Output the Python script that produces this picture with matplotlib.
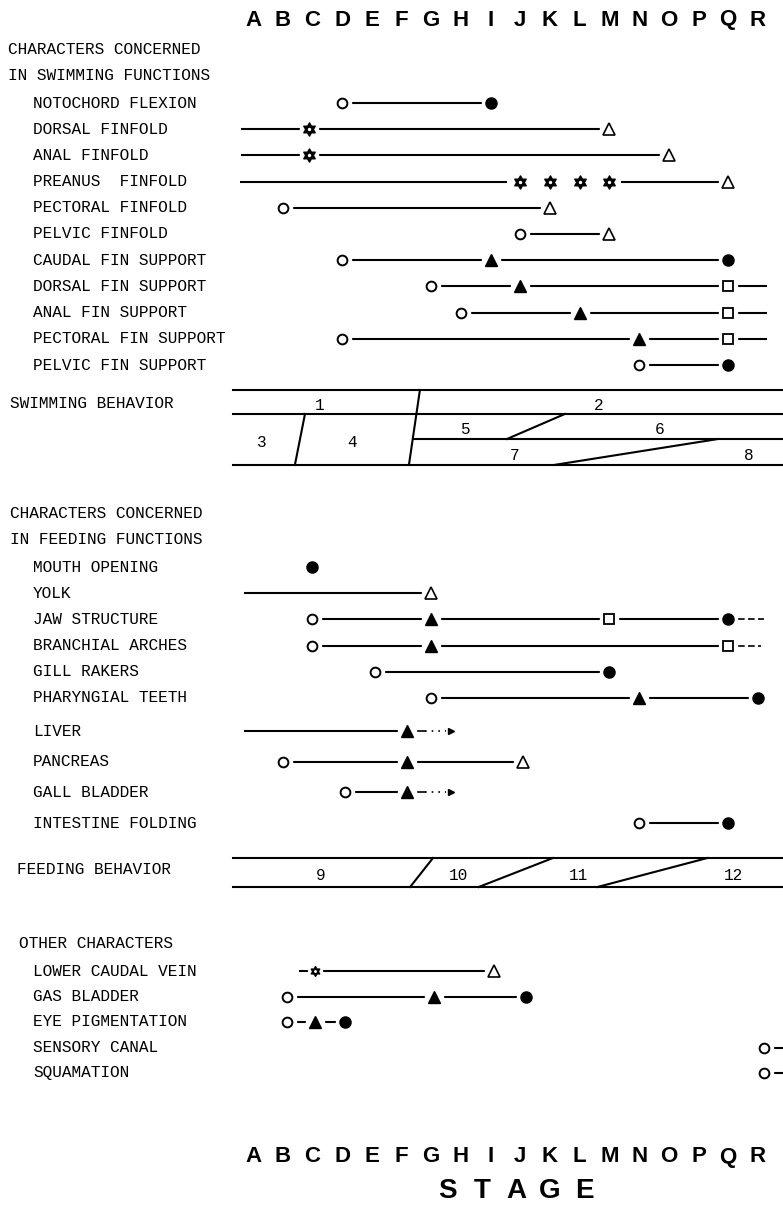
import numpy as np
import matplotlib.pyplot as plt
from matplotlib.path import Path
from matplotlib.transforms import blended_transform_factory

# Developmental stages along the horizontal axis
stages = list('ABCDEFGHIJKLMNOPQR')

# Characters concerned in swimming functions
swim_names = ['NOTOCHORD FLEXION', 'DORSAL FINFOLD', 'ANAL FINFOLD', 'PREANUS  FINFOLD',
              'PECTORAL FINFOLD', 'PELVIC FINFOLD', 'CAUDAL FIN SUPPORT', 'DORSAL FIN SUPPORT',
              'ANAL FIN SUPPORT', 'PECTORAL FIN SUPPORT', 'PELVIC FIN SUPPORT']
swim_marks = [
    [(3, 'open'), (8, 'dot')],
    [(1.9, 'star'), (12, 'open_tri')],
    [(1.9, 'star'), (14, 'open_tri')],
    [(9, 'star'), (10, 'star'), (11, 'star'), (12, 'star'), (16, 'open_tri')],
    [(1, 'open'), (10, 'open_tri')],
    [(9, 'open'), (12, 'open_tri')],
    [(3, 'open'), (8, 'tri'), (16, 'dot')],
    [(6, 'open'), (9, 'tri'), (16, 'square')],
    [(7, 'open'), (11, 'tri'), (16, 'square')],
    [(3, 'open'), (13, 'tri'), (16, 'square')],
    [(13, 'open'), (16, 'dot')],
]
swim_lines = [
    [(3, 8)],
    [(-0.4, 12)],
    [(-0.4, 14)],
    [(-0.45, 8.55), (12.4, 16)],
    [(1, 10)],
    [(9, 12)],
    [(3, 16)],
    [(6, 17.3)],
    [(7, 17.3)],
    [(3, 17.3)],
    [(13, 16)],
]

# Characters concerned in feeding functions
feed_names = ['MOUTH OPENING', 'YOLK', 'JAW STRUCTURE', 'BRANCHIAL ARCHES', 'GILL RAKERS',
              'PHARYNGIAL TEETH', 'LIVER', 'PANCREAS', 'GALL BLADDER', 'INTESTINE FOLDING']
feed_marks = [
    [(2, 'dot')],
    [(6, 'open_tri')],
    [(2, 'open'), (6, 'tri'), (12, 'square'), (16, 'dot')],
    [(2, 'open'), (6, 'tri'), (16, 'square')],
    [(4.1, 'open'), (12, 'dot')],
    [(6, 'open'), (13, 'tri'), (17, 'dot')],
    [(5.2, 'tri')],
    [(1, 'open'), (5.2, 'tri'), (9.1, 'open_tri')],
    [(3.1, 'open'), (5.2, 'tri')],
    [(13, 'open'), (16, 'dot')],
]
feed_lines = [
    [],
    [(-0.3, 6)],
    [(2, 16)],
    [(2, 16)],
    [(4.1, 12)],
    [(6, 17)],
    [(-0.3, 5.2)],
    [(1, 9.1)],
    [(3.1, 5.2)],
    [(13, 16)],
]
# continuation after the last mark: (start, end, kind)
feed_tails = [None, None, (16, 17.2, 'dashed'), (16, 17.1, 'dashed'), None, None,
              (5.2, 6.65, 'arrow'), None, (5.2, 6.65, 'arrow'), None]

# Other characters
other_names = ['LOWER CAUDAL VEIN', 'GAS BLADDER', 'EYE PIGMENTATION', 'SENSORY CANAL', 'SQUAMATION']
other_marks = [
    [(2.1, 'small_star'), (8.1, 'open_tri')],
    [(1.15, 'open'), (6.1, 'tri'), (9.2, 'dot')],
    [(1.15, 'open'), (2.1, 'tri'), (3.1, 'dot')],
    [(17.2, 'open')],
    [(17.2, 'open')],
]
other_lines = [[(1.55, 8.1)], [(1.15, 9.2)], [(1.15, 3.1)], [(17.2, 17.85)], [(17.2, 17.85)]]

# Swimming behaviour phases: band rules, sloping boundaries and phase numbers
swim_rule_start = [-0.67, -0.67, 5.38, -0.67]
swim_edges = [(1.75, 1.41, 1, 3), (5.62, 5.25, 0, 3), (10.5, 8.55, 1, 2), (15.66, 10.13, 2, 3)]
swim_phase = ['1', '2', '3', '4', '5', '6', '7', '8']
swim_phase_x = [2.26, 11.65, 0.3, 3.34, 7.17, 13.7, 8.8, 16.7]
swim_phase_band = [(0, 1), (0, 1), (1, 3), (1, 3), (1, 2), (1, 2), (2, 3), (2, 3)]

# Feeding behaviour phases
feed_edges = [(6.06, 5.29), (10.1, 7.6), (15.3, 11.6)]
feed_phase = ['9', '10', '11', '12']
feed_phase_x = [2.29, 6.93, 10.97, 16.16]

W, H = 783, 1209
PX = 29.7           # pixels per stage
X0 = 253            # pixel position of stage A
RIGHT = (W - X0) / PX

# six-pointed star used for the finfold marks
_out = np.deg2rad(90 + 60 * np.arange(6))
_verts = []
for a in _out:
    _verts.append((np.cos(a), np.sin(a)))
    _verts.append((0.577 * np.cos(a + np.pi / 6), 0.577 * np.sin(a + np.pi / 6)))
HEXAGRAM = Path(_verts + [_verts[0]], closed=True)

MARK_STYLE = {
    'open': dict(marker='o', ms=7, mfc='white', mec='black', mew=1.4),
    'dot': dict(marker='o', ms=8, mfc='black', mec='black'),
    'tri': dict(marker='^', ms=8, mfc='black', mec='black'),
    'open_tri': dict(marker='^', ms=8.5, mfc='white', mec='black', mew=1.2),
    'square': dict(marker='s', ms=6.5, mfc='white', mec='black', mew=1.3),
}
LABEL_FONT = dict(family='Liberation Mono', fontsize=11.6, color='black')
LINE_W = 1.5

fig = plt.figure(figsize=(W / 100, H / 100), dpi=100)
ax = fig.add_axes([0, 0, 1, 1])
ax.set_xlim(-X0 / PX, RIGHT)
ax.set_ylim(H, 0)
ax.axis('off')
lab = blended_transform_factory(ax.transAxes, ax.transData)


def draw_mark(x, y, kind):
    size = 10 if kind == 'small_star' else 13
    ax.plot(x, y, marker='o', ms=size, color='white', ls='none', zorder=2)
    if kind in ('star', 'small_star'):
        ms = 7 if kind == 'small_star' else 9.5
        ax.plot(x, y, ls='none', marker=HEXAGRAM, ms=ms, color='black', zorder=3)
        ax.plot(x, y, ls='none', marker='o', ms=ms * 0.15, color='white', zorder=4)
    else:
        ax.plot(x, y, ls='none', zorder=3, **MARK_STYLE[kind])


def draw_rows(names, marks, lines, ys, tails=None):
    for i, (name, y) in enumerate(zip(names, ys)):
        ax.text(33 / W, y, name, transform=lab, va='center', ha='left', **LABEL_FONT)
        for x0, x1 in lines[i]:
            ax.plot([x0, x1], [y, y], color='black', lw=LINE_W, zorder=1,
                    solid_capstyle='butt')
        if tails and tails[i]:
            x0, x1, kind = tails[i]
            if kind == 'dashed':
                ax.plot([x0, x1], [y, y], color='black', lw=1.2, ls=(0, (4, 2)), zorder=1)
            else:
                mid = x0 + 0.6
                ax.plot([x0, mid], [y, y], color='black', lw=1.2, zorder=1)
                ax.plot([mid, x1 - 0.15], [y, y], color='black', lw=1.2, ls=(0, (1, 3)), zorder=1)
                ax.plot(x1, y, marker='>', ms=4, color='black', ls='none', zorder=3)
        for x, kind in marks[i]:
            draw_mark(x, y, kind)


# stage letters top and bottom
for i, s in enumerate(stages):
    ax.text(i, 20, s, ha='center', va='center', fontsize=16, family='Liberation Sans',
            fontweight='bold')
    ax.text(i, 1157, s, ha='center', va='center', fontsize=16, family='Liberation Sans',
            fontweight='bold')
for i, s in enumerate('STAGE'):
    ax.text(8.85 + (i - 2) * 1.15, 1191, s, ha='center', va='center', fontsize=20,
            family='Liberation Sans', fontweight='bold')

# swimming characters
ax.text(8 / W, 50, 'CHARACTERS CONCERNED', transform=lab, va='center', **LABEL_FONT)
ax.text(8 / W, 76, 'IN SWIMMING FUNCTIONS', transform=lab, va='center', **LABEL_FONT)
swim_y = 103 + 26.2 * np.arange(len(swim_names))
draw_rows(swim_names, swim_marks, swim_lines, swim_y)

# swimming behaviour diagram
ax.text(10 / W, 404, 'SWIMMING BEHAVIOR', transform=lab, va='center', **LABEL_FONT)
rules = [390, 414, 439, 465]
for start, ry in zip(swim_rule_start, rules):
    ax.plot([start, RIGHT], [ry, ry], color='black', lw=LINE_W)
for xt, xb, top, bot in swim_edges:
    ax.plot([xt, xb], [rules[top], rules[bot]], color='black', lw=LINE_W)
for txt, x, (a, b) in zip(swim_phase, swim_phase_x, swim_phase_band):
    ax.text(x, (rules[a] + rules[b]) / 2 + 3, txt, ha='center', va='center', **LABEL_FONT)

# feeding characters
ax.text(10 / W, 514, 'CHARACTERS CONCERNED', transform=lab, va='center', **LABEL_FONT)
ax.text(10 / W, 540, 'IN FEEDING FUNCTIONS', transform=lab, va='center', **LABEL_FONT)
feed_y = np.concatenate([567 + 26.2 * np.arange(6), 731 + 30.7 * np.arange(4)])
draw_rows(feed_names, feed_marks, feed_lines, feed_y, feed_tails)

# feeding behaviour diagram
ax.text(17 / W, 869, 'FEEDING BEHAVIOR', transform=lab, va='center', **LABEL_FONT)
frules = [858, 887]
for ry in frules:
    ax.plot([-0.67, RIGHT], [ry, ry], color='black', lw=LINE_W)
for xt, xb in feed_edges:
    ax.plot([xt, xb], frules, color='black', lw=LINE_W)
for txt, x in zip(feed_phase, feed_phase_x):
    ax.text(x, sum(frules) / 2 + 3, txt, ha='center', va='center', **LABEL_FONT)

# other characters
ax.text(19 / W, 944, 'OTHER CHARACTERS', transform=lab, va='center', **LABEL_FONT)
other_y = 971 + 25.5 * np.arange(len(other_names))
draw_rows(other_names, other_marks, other_lines, other_y)

fig.savefig('out.png', dpi=100, facecolor='white')
plt.close(fig)
